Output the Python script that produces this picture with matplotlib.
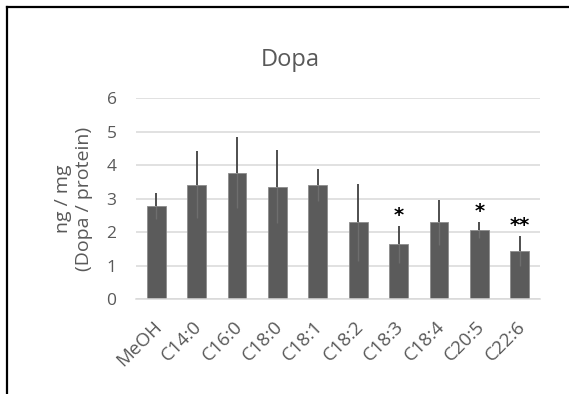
import numpy as np
import matplotlib.pyplot as plt
from matplotlib.lines import Line2D
from matplotlib.transforms import ScaledTranslation

plt.rcParams['font.family'] = ['Open Sans', 'DejaVu Sans']

groups = ["MeOH", "C14:0", "C16:0", "C18:0", "C18:1", "C18:2", "C18:3", "C18:4", "C20:5", "C22:6"]
dopa = [2.77, 3.42, 3.78, 3.35, 3.42, 2.29, 1.63, 2.29, 2.06, 1.44]
err = [0.39, 1.00, 1.07, 1.09, 0.48, 1.16, 0.55, 0.68, 0.23, 0.44]
marks = ["", "", "", "", "", "", "*", "", "*", "**"]

gray = "#595959"
W, H = 569, 394

fig = plt.figure(figsize=(W / 100, H / 100), dpi=100)
ax = fig.add_axes([136 / W, 95 / H, 404 / W, 200.7 / H])

x = np.arange(len(groups))
ax.bar(x, dopa, width=0.47, color="#5b5b5b", edgecolor="#8c8c8c", linewidth=0.6, zorder=2)
zeros = np.zeros(len(groups))
ax.errorbar(x, dopa, yerr=[zeros, err], fmt="none", ecolor="#404040", elinewidth=1.3, capsize=0, zorder=3)
ax.errorbar(x, dopa, yerr=[err, zeros], fmt="none", ecolor="#6e6e6e", elinewidth=1.0, capsize=0, zorder=3)

for i, m in enumerate(marks):
    if m:
        ax.annotate(m, (i, dopa[i] + err[i]), xytext=(0, 1), textcoords="offset points",
                    ha="center", va="bottom", fontsize=14, fontweight="bold", color="black",
                    family="DejaVu Sans")

ax.set_xlim(-0.5, len(groups) - 0.5)
ax.set_ylim(0, 6)
ax.set_yticks(range(7))
ax.yaxis.grid(True, color="#d9d9d9", linewidth=1.1, zorder=0)
ax.set_axisbelow(True)
for s in ["left", "right", "top"]:
    ax.spines[s].set_visible(False)
ax.spines["bottom"].set_color("#d9d9d9")
ax.spines["bottom"].set_linewidth(1.1)

ax.set_xticks(x)
ax.set_xticklabels(groups, rotation=45, ha="right", va="center", rotation_mode="anchor")
ax.tick_params(axis="x", length=0, pad=18, labelsize=13.5, labelcolor=gray)
ax.tick_params(axis="y", length=0, pad=14, labelsize=12.5, labelcolor=gray)
shift = ScaledTranslation(2.5 / 100, 0, fig.dpi_scale_trans)
for lbl in ax.get_xticklabels():
    lbl.set_transform(lbl.get_transform() + shift)

fig.text(73.5 / W, 1 - 199 / H, "ng / mg\n(Dopa / protein)", rotation=90, ha="center", va="center",
         multialignment="center", fontsize=14, color=gray, linespacing=1.15)
fig.text(290.5 / W, 1 - 66 / H, "Dopa", ha="center", va="baseline", fontsize=17, color=gray)

fig.add_artist(Line2D([7 / W, 7 / W], [0, 1 - 7 / H], color="black", linewidth=1.6))
fig.add_artist(Line2D([7 / W, 1], [1 - 7 / H, 1 - 7 / H], color="black", linewidth=1.6))

fig.savefig("out.png", dpi=100)
